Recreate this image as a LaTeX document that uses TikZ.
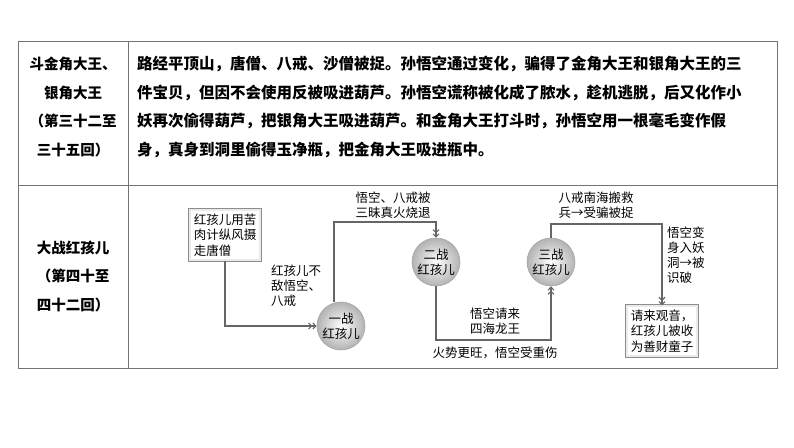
\documentclass[tikz,border=0pt]{standalone}
\usepackage{fontspec}
\setmainfont{Noto Sans CJK SC}
\usetikzlibrary{arrows.meta}
\tikzset{
 x=1pt,y=-1pt,
 grid/.style={draw=black!55,line width=1pt},
 bodytxt/.style={anchor=west,inner sep=0,font=\fontsize{15.5}{18}\selectfont\bfseries},
 headtxt/.style={align=center,inner sep=0,font=\fontsize{14.5}{28.5}\selectfont\bfseries},
 dtxt/.style={align=center,inner sep=0,font=\fontsize{12.5}{15}\selectfont},
 ltxt/.style={align=left,inner sep=0,font=\fontsize{12.5}{15}\selectfont},
 battle/.style={circle,minimum size=48pt,inner sep=0,draw=black!35,line width=0.6pt,
   inner color=white,outer color=black!30,align=center,font=\fontsize{12.5}{15}\selectfont},
 framebox/.style={draw=black!45,double=black!8,double distance=2pt,line width=0.7pt,fill=white,align=left,inner sep=4pt,font=\fontsize{12.5}{15.5}\selectfont},
 flow/.style={draw=black!60,line width=1.1pt,-{Straight Barb[length=3pt,width=6pt]Straight Barb[length=3pt,width=6pt]}},
}
\begin{document}
\begin{tikzpicture}
\useasboundingbox (0,0) rectangle (794,447);
\fill[white] (0,0) rectangle (794,447);
\draw[grid] (18,41) rectangle (777,368);
\draw[grid] (18,185) -- (777,185);
\draw[grid] (128,41) -- (128,368);
\node[headtxt] (h1) at (73,107) {斗金角大王、\\银角大王\\（第三十二至\\三十五回）};
\node[headtxt] (h2) at (73,276) {大战红孩儿\\（第四十至\\四十二回）};
\node[bodytxt] (t1) at (137,64) {路经平顶山，唐僧、八戒、沙僧被捉。孙悟空通过变化，骗得了金角大王和银角大王的三};
\node[bodytxt] (t2) at (137,93) {件宝贝，但因不会使用反被吸进葫芦。孙悟空谎称被化成了脓水，趁机逃脱，后又化作小};
\node[bodytxt] (t3) at (137,121) {妖再次偷得葫芦，把银角大王吸进葫芦。和金角大王打斗时，孙悟空用一根毫毛变作假};
\node[bodytxt] (t4) at (137,150) {身，真身到洞里偷得玉净瓶，把金角大王吸进瓶中。};
% diagram
\node[framebox] (b1) at (225,235) {红孩儿用苦\\肉计纵风摄\\走唐僧};
\node[framebox] (b2) at (662,331) {请来观音，\\红孩儿被收\\为善财童子};
\node[battle] (c1) at (341,326) {一战\\红孩儿};
\node[battle] (c2) at (436,262) {二战\\红孩儿};
\node[battle] (c3) at (551,262) {三战\\红孩儿};
\draw[flow] (b1.south) |- (c1.west);
\draw[flow] (c1.north -| 334,0) |- (436,222) -- (c2.north);
\draw[flow] (c2.south) |- (551,340) -- (c3.south);
\draw[flow] (c3.north) |- (662,224) -- (b2.north);
\node[dtxt] (l1) at (393,205) {悟空、八戒被\\三昧真火烧退};
\node[ltxt] (l2) at (296,286) {红孩儿不\\敌悟空、\\八戒};
\node[dtxt] (l3) at (495,321) {悟空请来\\四海龙王};
\node[dtxt] (l4) at (495,353) {火势更旺，悟空受重伤};
\node[dtxt] (l5) at (596,205) {八戒南海搬救\\兵→受骗被捉};
\node[ltxt,anchor=north west] (l6) at (667,227) {悟空变\\身入妖\\洞→被\\识破};
\end{tikzpicture}
\end{document}
